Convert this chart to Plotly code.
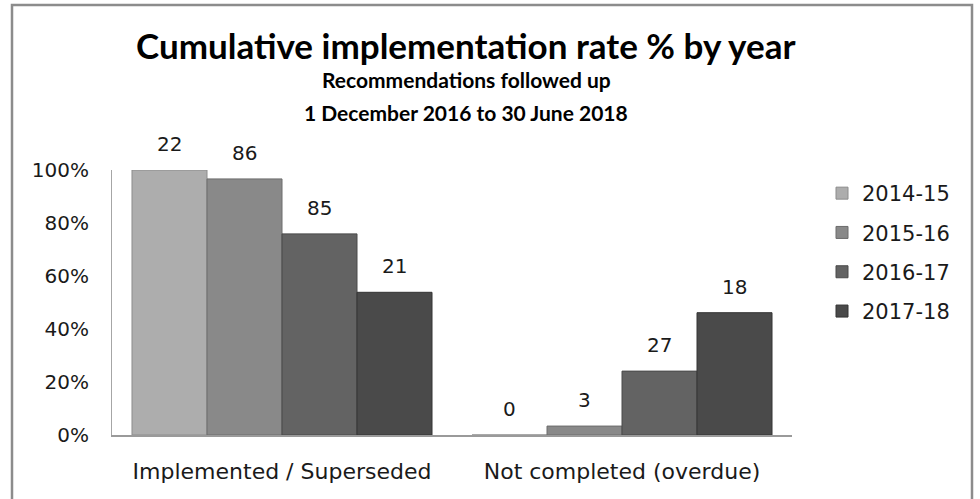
import plotly.graph_objects as go

categories = ["Implemented / Superseded", "Not completed (overdue)"]
series_names = ["2014-15", "2015-16", "2016-17", "2017-18"]
# counts per series: [implemented, not completed]
counts_2014_15 = [22, 0]
counts_2015_16 = [86, 3]
counts_2016_17 = [85, 27]
counts_2017_18 = [21, 18]
all_counts = [counts_2014_15, counts_2015_16, counts_2016_17, counts_2017_18]

colors = ["#adadad", "#898989", "#636363", "#4a4a4a"]
edge_colors = ["#8c8c8c", "#6c6c6c", "#4a4a4a", "#343434"]

FONT = "DejaVu Sans"
TFONT = "Lato"
TXT = "#1a1a1a"

fig = go.Figure()
for i, (name, cnt) in enumerate(zip(series_names, all_counts)):
    s = sum(cnt)
    rates = [c / s for c in cnt]
    fig.add_trace(go.Bar(
        x=categories, y=rates, name=name,
        marker=dict(color=colors[i], line=dict(color=edge_colors[i], width=1)),
        legendgroup=name,
        hoverinfo="skip",
    ))
    for j, cat in enumerate(categories):
        fig.add_annotation(
            x=cat, y=rates[j], xref="x", yref="y",
            text=str(cnt[j]), showarrow=False,
            xshift=(i - 1.5) * 75, yshift=26, yanchor="middle",
            font=dict(family=FONT, size=20, color=TXT),
        )

# plot area: x 112..792, y 170..435
L, R, T, B = 112, 188, 170, 64
W, H = 980, 499
pw, ph = W - L - R, H - T - B

def px(xp):
    return (xp - L) / pw

def py(yp):
    return (H - B - yp) / ph

titles = [
    ("Cumulative implementation rate % by year", 45, 35),
    ("Recommendations followed up", 79, 21),
    ("1 December 2016 to 30 June 2018", 112, 21),
]
for txt, yc, sz in titles:
    fig.add_annotation(
        x=px(466), y=py(yc), xref="paper", yref="paper",
        text="<b>" + txt + "</b>", showarrow=False,
        xanchor="center", yanchor="middle",
        font=dict(family=TFONT, size=sz, color="#000000"),
    )

fig.add_shape(
    type="rect", xref="paper", yref="paper",
    x0=px(12), x1=px(972), y0=py(510), y1=py(5),
    line=dict(color="#8c8c8c", width=2.5), layer="above",
)

fig.update_layout(
    width=W, height=H,
    margin=dict(l=L, r=R, t=T, b=B, autoexpand=False),
    paper_bgcolor="white", plot_bgcolor="white",
    barmode="group", bargap=0.1176, bargroupgap=0,
    showlegend=True,
    legend=dict(
        x=px(822), y=py(173), xanchor="left", yanchor="top",
        font=dict(family=FONT, size=21, color=TXT),
        traceorder="grouped", tracegroupgap=9,
        bgcolor="rgba(0,0,0,0)", itemwidth=30,
    ),
    font=dict(family=FONT, color=TXT),
)
fig.update_xaxes(
    range=[-0.5, 1.5], showline=True, linecolor="#9a9a9a", linewidth=2,
    showgrid=False, ticks="", ticklabelstandoff=16,
    tickfont=dict(family=FONT, size=22, color=TXT),
)
fig.update_yaxes(
    range=[0, 1], tickformat=".0%", dtick=0.2, showgrid=False,
    showline=True, linecolor="#a6a6a6", linewidth=1, zeroline=False,
    ticks="", ticklabelstandoff=18,
    tickfont=dict(family=FONT, size=20, color=TXT),
)

fig.write_html(
    "out.html",
    config={"displayModeBar": False},
    post_script="document.body.style.margin='0px';document.body.style.overflow='hidden';",
)
